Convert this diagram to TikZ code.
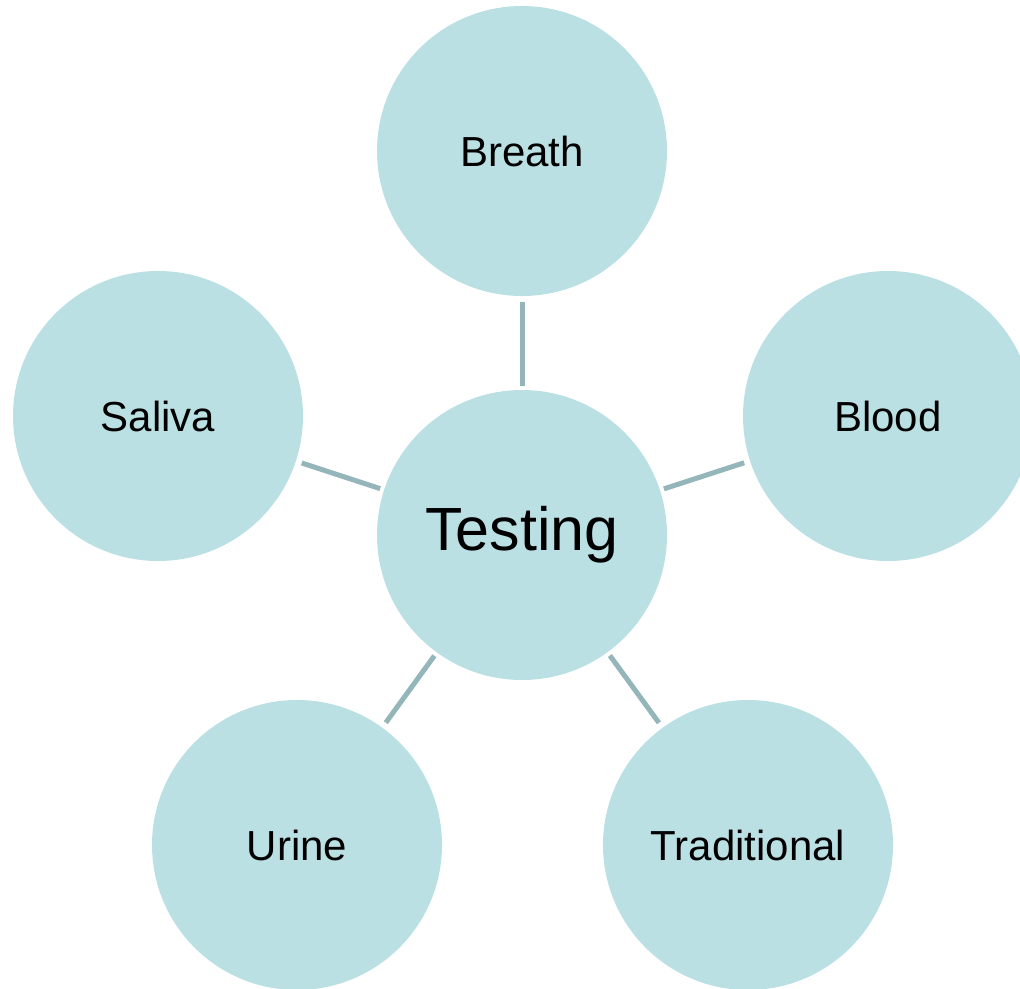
\documentclass[tikz,border=0pt]{standalone}
\usepackage{fontspec}
\setmainfont{Liberation Sans}
\definecolor{bubble}{HTML}{BBE0E4}
\definecolor{link}{HTML}{94B6BA}
\begin{document}
\begin{tikzpicture}[x=1pt,y=-1pt,
  bub/.style={circle,fill=bubble,inner sep=0pt,minimum size=290pt,font=\fontsize{42}{48}\selectfont},
  hub/.style={bub,font=\fontsize{61}{68}\selectfont},
  conn/.style={draw=link,line width=5pt,shorten <=4pt,shorten >=6pt}]
\useasboundingbox (0,0) rectangle (1020,988);
\clip (0,0) rectangle (1020,988);
\node[hub] (t) at (522,535) {Testing};
\node[bub] (br) at (522,151) {Breath};
\node[bub] (sa) at (158,416) {Saliva};
\node[bub] (bl) at (888,416) {Blood};
\node[bub] (ur) at (297,845) {Urine};
\node[bub] (tr) at (748,845) {Traditional};
\draw[conn] (t) -- (br);
\draw[conn] (t) -- (sa);
\draw[conn] (t) -- (bl);
\draw[conn] (t) -- (ur);
\draw[conn] (t) -- (tr);
\end{tikzpicture}
\end{document}
